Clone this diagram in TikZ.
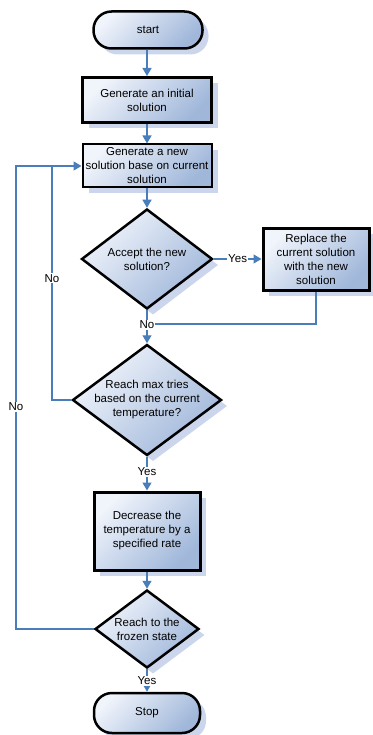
\documentclass[tikz,border=0pt]{standalone}
\usepackage{fontspec}
\setmainfont{Liberation Sans}
\usetikzlibrary{shapes.geometric,arrows.meta,shadows}
\definecolor{lite}{RGB}{240,244,251}
\definecolor{dark}{RGB}{160,183,218}
\definecolor{shad}{RGB}{203,214,237}
\definecolor{edge}{RGB}{74,126,187}
\begin{document}
\begin{tikzpicture}[x=1pt,y=-1pt,
  font=\fontsize{11.5}{14}\selectfont,
  base/.style={top color=lite,bottom color=dark,shading angle=45,draw=black,
    line width=2.5pt,inner sep=0pt,align=center,
    copy shadow={shadow xshift=6pt,shadow yshift=-6pt,draw=none,fill=shad}},
  term/.style={base,rectangle,rounded corners=18pt},
  proc/.style={base,rectangle,line width=3pt},
  procthin/.style={base,rectangle,line width=2pt},
  dia/.style={base,diamond},
  txt/.style={align=center,inner sep=0pt},
  conn/.style={draw=edge,line width=1.3pt},
  arr/.style={conn,-{Triangle[width=9pt,length=8pt]}},
  lab/.style={fill=white,inner sep=1pt,text=black}
]
\useasboundingbox (0,0) rectangle (372,735);

\node[term,minimum width=109pt,minimum height=37pt] (start) at (148,30) {start};
\node[proc,minimum width=129pt,minimum height=45pt] (b1) at (147,100) {Generate an initial\\solution};
\node[procthin,minimum width=129pt,minimum height=43pt] (b2) at (147,166) {Generate a new\\solution base on current\\solution};
\node[dia,minimum width=131pt,minimum height=100pt,
  label={[txt]center:Accept the new\\solution?}] (d1) at (147,259) {};
\node[proc,minimum width=106pt,minimum height=62pt] (b3) at (316,259) {Replace the\\current solution\\with the new\\solution};
\node[dia,minimum width=149pt,minimum height=111pt,
  label={[txt]center:Reach max tries\\based on the current\\temperature?}] (d2) at (147,400) {};
\node[proc,minimum width=106pt,minimum height=78pt] (b4) at (147,531) {Decrease the\\temperature by a\\specified rate};
\node[dia,minimum width=104pt,minimum height=78pt,
  label={[txt]center:Reach to the\\frozen state}] (d3) at (147,629) {};
\node[term,minimum width=106pt,minimum height=40pt] (stop) at (147,713) {Stop};

\coordinate (j) at (147,324);
\coordinate (l1) at (52,166);
\coordinate (l2) at (16,166);

\draw[arr] (start.south -| b1.north) -- (b1.north);
\draw[arr] (b1) -- (b2);
\draw[arr] (b2) -- (d1.north);
\draw[arr] (d1.east) -- node[lab]{Yes} (b3.west);
\draw[conn] (b3.south) |- (j);
\draw[arr] (d1.south) -- node[lab,pos=0.44]{No} (d2.north);
\draw[arr] (d2.west) -| node[lab,pos=0.76]{No} (l1) -- (b2.west);
\draw[conn] (d3.west) -| node[lab,pos=0.74]{No} (l2) -- (l1);
\draw[arr] (d2.south) -- node[lab,pos=0.44]{Yes} (b4.north);
\draw[arr] (b4) -- (d3.north);
\draw[arr] (d3.south) -- node[lab,pos=0.52]{Yes} (stop.north);
\end{tikzpicture}
\end{document}
